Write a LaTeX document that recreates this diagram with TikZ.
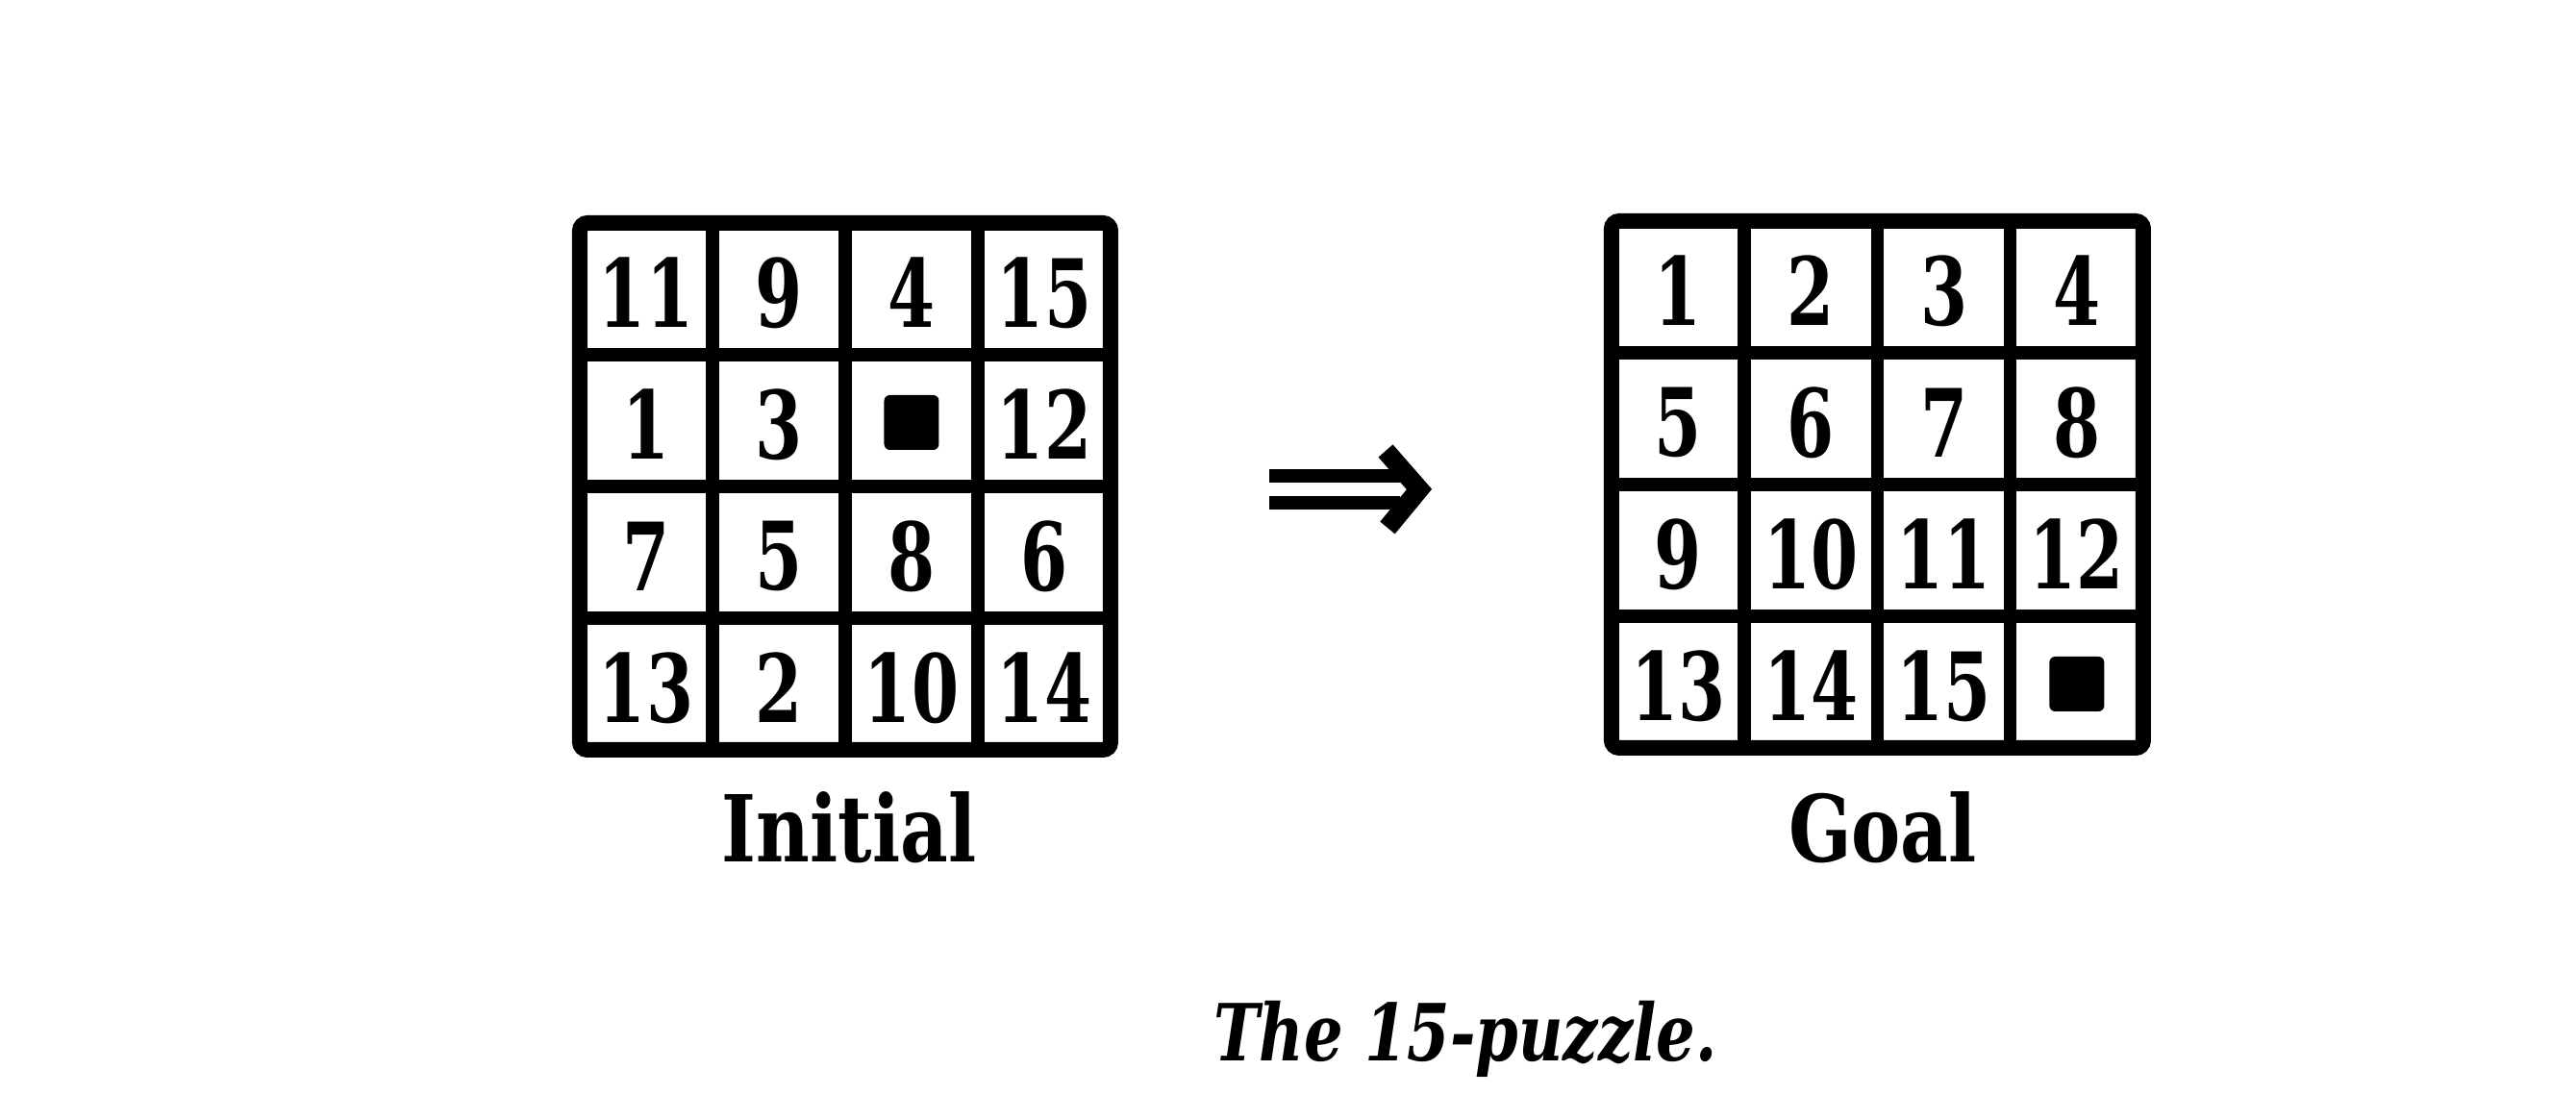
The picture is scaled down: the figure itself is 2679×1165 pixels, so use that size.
\documentclass[tikz,border=0pt]{standalone}
\usepackage{fontspec}
\setmainfont{DejaVu Serif}[FakeStretch=0.8]
\newfontfamily\tiledigits{DejaVu Serif}[FakeStretch=0.72]
\newfontfamily\captionface{DejaVu Serif}[FakeStretch=0.78]
\usetikzlibrary{arrows.meta}
\begin{document}
\begin{tikzpicture}[x=0.1pt,y=-0.1pt,
  tilenum/.style={font=\tiledigits\fontsize{9.8}{11}\selectfont\bfseries, inner sep=0pt, anchor=center},
  blanksq/.style={fill=black, minimum size=5.7pt, inner sep=0pt, rounded corners=0.6pt},
  caplabel/.style={font=\fontsize{9.6}{11}\selectfont\bfseries, anchor=base, inner sep=0pt},
  captext/.style={font=\captionface\fontsize{8.2}{10}\selectfont\bfseries\itshape, anchor=base, inner sep=0pt},
  gridframe/.style={line width=1.6pt, rounded corners=0.8pt},
  gridline/.style={line width=1.35pt},
  arrowbar/.style={line width=1.4pt},
  arrowhead/.style={line width=2pt, line join=miter, miter limit=10}]
\useasboundingbox (0,0) rectangle (2679,1165);
% initial grid
\draw[gridframe] (603,232) rectangle (1155,780);
\foreach \t in {1,2,3}{
  \draw[gridline] ({603+138*\t},232) -- ({603+138*\t},780);
  \draw[gridline] (603,{232+137*\t}) -- (1155,{232+137*\t});
}
\foreach \n [count=\k from 0] in {11,9,4,15,1,3,0,12,7,5,8,6,13,2,10,14}{
  \pgfmathtruncatemacro\c{mod(\k,4)}
  \pgfmathtruncatemacro\r{div(\k,4)}
  \ifnum\n=0
    \node[blanksq] (i-\k) at ({603+138*(\c+0.5)},{232+137*(\r+0.5)+2}) {};
  \else
    \node[tilenum] (i-\k) at ({603+138*(\c+0.5)},{232+137*(\r+0.5)+4}) {\n};
  \fi
}
% goal grid
\draw[gridframe] (1676,230) rectangle (2229,778);
\foreach \t in {1,2,3}{
  \draw[gridline] ({1676+138.25*\t},230) -- ({1676+138.25*\t},778);
  \draw[gridline] (1676,{230+137*\t}) -- (2229,{230+137*\t});
}
\foreach \n [count=\k from 0] in {1,2,3,4,5,6,7,8,9,10,11,12,13,14,15,0}{
  \pgfmathtruncatemacro\c{mod(\k,4)}
  \pgfmathtruncatemacro\r{div(\k,4)}
  \ifnum\n=0
    \node[blanksq] (g-\k) at ({1676+138.25*(\c+0.5)},{230+137*(\r+0.5)+2}) {};
  \else
    \node[tilenum] (g-\k) at ({1676+138.25*(\c+0.5)},{230+137*(\r+0.5)+4}) {\n};
  \fi
}
% arrow
\coordinate (arrowstart) at (1320,509);
\coordinate (arrowend) at (1476,509);
\draw[arrowbar] ([yshift=1.4pt]arrowstart) -- ([yshift=1.4pt,xshift=-2pt]arrowend);
\draw[arrowbar] ([yshift=-1.4pt]arrowstart) -- ([yshift=-1.4pt,xshift=-2pt]arrowend);
\draw[arrowhead] ([xshift=-3.5pt,yshift=4pt]arrowend) -- (arrowend) -- ([xshift=-3.3pt,yshift=-4pt]arrowend);
% labels
\node[caplabel] (initlabel) at (883,897) {Initial};
\node[caplabel] (goallabel) at (1958,897) {Goal};
\node[captext] (caption) at (1524,1104) {The 15-puzzle.};
\end{tikzpicture}
\end{document}
